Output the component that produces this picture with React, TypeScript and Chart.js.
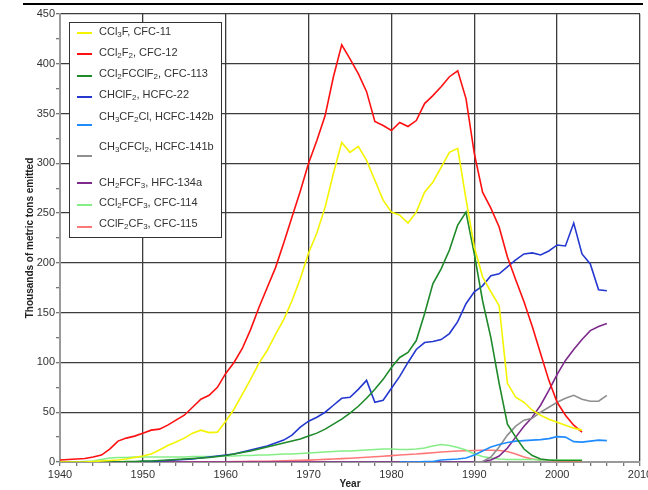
import React, { useEffect, useRef } from "react";
import { Chart, registerables } from "chart.js";

Chart.register(...registerables);

const YEARS = [
  1940, 1941, 1942, 1943, 1944, 1945, 1946, 1947, 1948, 1949,
  1950, 1951, 1952, 1953, 1954, 1955, 1956, 1957, 1958, 1959,
  1960, 1961, 1962, 1963, 1964, 1965, 1966, 1967, 1968, 1969,
  1970, 1971, 1972, 1973, 1974, 1975, 1976, 1977, 1978, 1979,
  1980, 1981, 1982, 1983, 1984, 1985, 1986, 1987, 1988, 1989,
  1990, 1991, 1992, 1993, 1994, 1995, 1996, 1997, 1998, 1999,
  2000, 2001, 2002, 2003, 2004, 2005, 2006,
];

const CFC11 = [
  0, 0, 0, 0, 0.5, 1, 1.5, 2, 3, 4.5,
  6, 8, 12, 16.5, 20, 24, 29, 32, 29.5, 30,
  41, 53, 68, 83, 99, 112, 128, 143, 162, 184,
  210, 230, 256, 290, 321, 311, 317, 303, 283, 263,
  251, 248, 240, 251, 271, 281, 296, 311, 315, 264,
  216, 186, 171, 157, 79, 65, 60, 52, 47, 43,
  40, 37, 34, 32, null, null, null,
];

const CFC12 = [
  2, 2.5, 3, 3.5, 5, 7, 13, 21, 24, 26,
  29, 32, 33, 37, 42, 47, 55, 63, 67, 75,
  89, 100, 114, 133, 155, 175, 195, 220, 246, 272,
  300, 323, 348, 387, 419, 405, 390, 372, 342, 338,
  333, 341, 337, 343, 360, 368, 377, 387, 393, 365,
  310, 271, 255, 236, 206, 183, 161, 136, 109, 82,
  60, 47, 37, 30, null, null, null,
];

const CFC113 = [
  0, 0, 0, 0, 0, 0, 0, 0, 0.5, 0.5,
  1, 1, 1.5, 2, 2.5, 3, 3.5, 4, 4.5, 5.5,
  6.5, 8, 9.5, 11, 13, 15, 17, 19, 21, 23,
  26, 29, 33, 38, 43, 49, 56, 64, 73, 83,
  95, 105, 110, 122, 149, 179, 194, 213, 238, 251,
  209, 162, 125, 79, 38, 25, 13, 6.5, 3, 2,
  1.5, 1.5, 1.5, 1.5, null, null, null,
];

const HCFC22 = [
  0, 0, 0, 0, 0, 0, 0, 0, 0, 0,
  0.5, 0.5, 1, 1.5, 2, 2.5, 3, 4, 5, 6,
  7, 8, 10, 12, 14, 16, 19, 22, 27, 35,
  41, 45, 50, 57, 64, 65, 73, 82, 60, 62,
  74, 86, 100, 113, 120, 121, 123, 129, 141, 159,
  171, 177, 187, 189, 196, 203, 209, 210, 208, 212,
  218, 217, 240, 209, 199, 173, 172,
];

const HCFC142B = [
  null, null, null, null, null, null, null, null, null, null,
  null, null, null, null, null, null, null, null, null, null,
  null, null, null, null, null, null, null, null, null, null,
  null, null, null, null, null, null, null, null, null, null,
  null, 0, 0, 0, 0.5, 0.5, 2, 2.5, 3, 4,
  7, 11, 15, 17.5, 19.5, 21, 21.5, 22, 22.5, 23.5,
  25.5, 25, 20.5, 20, 21, 22, 21.5,
];

const HCFC141B = [
  null, null, null, null, null, null, null, null, null, null,
  null, null, null, null, null, null, null, null, null, null,
  null, null, null, null, null, null, null, null, null, null,
  null, null, null, null, null, null, null, null, null, null,
  null, null, null, null, null, null, null, null, null, null,
  0, 0.5, 5, 15, 27, 36, 42, 44, 50, 55,
  60, 64, 67, 63, 61, 61, 67,
];

const HFC134A = [
  0, 0, 0, 0, 0, 0, 0, 0, 0, 0,
  0, 0, 0, 0, 0, 0, 0, 0, 0, 0,
  0, 0, 0, 0, 0, 0, 0, 0, 0, 0,
  0, 0, 0, 0, 0, 0, 0, 0, 0, 0,
  0, 0, 0, 0, 0, 0, 0, 0, 0, 0,
  0, 0.5, 2, 6, 14, 25, 36, 45, 57, 72,
  88, 102, 113, 123, 132, 136, 139,
];

const CFC114 = [
  0, 0, 0, 0.5, 1, 2.5, 4, 4.5, 4.5, 5,
  5, 5, 5, 5, 5, 5, 5.5, 5.5, 5.5, 5.5,
  6, 6, 6.5, 6.5, 7, 7, 7.5, 8, 8, 8.5,
  9, 9.5, 10, 10.5, 11, 11, 11.5, 12, 12.5, 13,
  13, 12.5, 12.5, 13, 14, 16, 17.5, 16.5, 14.5, 12,
  8, 5.5, 4, 3, 2.5, 2.5, 2.5, 2.5, 2, 2,
  2, 2, 2, 2, null, null, null,
];

const CFC115 = [
  0, 0, 0, 0, 0, 0, 0, 0, 0, 0,
  0, 0, 0, 0, 0, 0, 0.1, 0.1, 0.2, 0.2,
  0.3, 0.4, 0.5, 0.6, 0.7, 0.8, 1, 1.2, 1.4, 1.6,
  1.9, 2.2, 2.6, 3, 3.4, 3.8, 4.2, 4.7, 5.2, 5.8,
  6.4, 7, 7.5, 8, 8.7, 9.3, 10, 10.5, 11, 11.3,
  11.5, 11.8, 11.8, 11.5, 10.5, 8, 5, 3, 2, 1.5,
  1, 0.8, 0.6, 0.5, null, null, null,
];

const SERIES_LABELS = [
  "CCl_3F, CFC-11",
  "CCl_2F_2, CFC-12",
  "CCl_2FCClF_2, CFC-113",
  "CHClF_2, HCFC-22",
  "CH_3CF_2Cl, HCFC-142b",
  "CH_3CFCl_2, HCFC-141b",
  "CH_2FCF_3, HFC-134a",
  "CCl_2FCF_3, CFC-114",
  "CClF_2CF_3, CFC-115",
];

const SERIES_VALUES = [CFC11, CFC12, CFC113, HCFC22, HCFC142B, HCFC141B, HFC134A, CFC114, CFC115];

const SERIES_COLORS = [
  "#f4f400",
  "#ff1010",
  "#1f8a2a",
  "#2438d0",
  "#1e8cff",
  "#8f8f8f",
  "#7d2a8c",
  "#86ee86",
  "#ff7878",
];

const X_TITLE = "Year";
const Y_TITLE = "Thousands of metric tons emitted";

const FONT = "'Liberation Sans', Arial, Helvetica, sans-serif";

// legend layout (text centre y, swatch y) per row
const LEGEND_TEXT_Y = [32, 53, 74, 95, 117, 147, 183, 203, 224];
const LEGEND_SWATCH_Y = [33, 54, 76, 97, 125, 156, 183, 205, 227];

function drawRich(ctx: CanvasRenderingContext2D, text: string, x: number, y: number) {
  const parts = text.split(/(_\d)/);
  let cx = x;
  for (const p of parts) {
    if (!p) continue;
    if (p.startsWith("_")) {
      ctx.font = `8px ${FONT}`;
      ctx.fillText(p.slice(1), cx, y + 3);
      cx += ctx.measureText(p.slice(1)).width;
    } else {
      ctx.font = `11px ${FONT}`;
      ctx.fillText(p, cx, y);
      cx += ctx.measureText(p).width;
    }
  }
}

const decorPlugin = {
  id: "decor",
  afterDraw(chart: any) {
    const ctx: CanvasRenderingContext2D = chart.ctx;
    ctx.save();
    // page rule at top
    ctx.fillStyle = "#000";
    ctx.fillRect(23, 3, 620, 2);
    // legend box
    const bx = 69.5, by = 22.5, bw = 152, bh = 215;
    ctx.fillStyle = "#fff";
    ctx.fillRect(bx, by, bw, bh);
    ctx.strokeStyle = "#333";
    ctx.lineWidth = 1;
    ctx.strokeRect(bx, by, bw, bh);
    ctx.textBaseline = "middle";
    ctx.textAlign = "left";
    SERIES_LABELS.forEach((label, i) => {
      ctx.strokeStyle = SERIES_COLORS[i];
      ctx.lineWidth = 2;
      ctx.beginPath();
      ctx.moveTo(77, LEGEND_SWATCH_Y[i]);
      ctx.lineTo(92, LEGEND_SWATCH_Y[i]);
      ctx.stroke();
      ctx.fillStyle = "#333";
      drawRich(ctx, label, 99, LEGEND_TEXT_Y[i]);
    });
    ctx.restore();
  },
};

export default function App() {
  const ref = useRef<HTMLCanvasElement>(null);

  useEffect(() => {
    if (!ref.current) return;
    const datasets = SERIES_LABELS.map((label, i) => ({
      label,
      data: YEARS.map((x, j) => ({ x, y: SERIES_VALUES[i][j] })),
      borderColor: SERIES_COLORS[i],
      backgroundColor: SERIES_COLORS[i],
      borderWidth: 1.6,
      pointRadius: 0,
      tension: 0,
      fill: false,
      spanGaps: false,
    }));

    const chart = new Chart(ref.current, {
      type: "line",
      data: { datasets },
      options: {
        animation: false,
        responsive: false,
        events: [],
        layout: { padding: { left: 20, right: 8, top: 14, bottom: 0 } },
        plugins: {
          legend: { display: false },
          tooltip: { enabled: false },
        },
        scales: {
          x: {
            type: "linear",
            min: 1940,
            max: 2010,
            ticks: {
              stepSize: 2,
              autoSkip: false,
              maxRotation: 0,
              padding: 2,
              color: "#333",
              font: { family: FONT, size: 11 },
              callback: (v: any) => (Number(v) % 10 === 0 ? String(v) : ""),
            },
            grid: {
              color: (c: any) =>
                c.tick && c.tick.value % 10 === 0 && c.tick.value !== 1940 ? "#3c3c3c" : "rgba(0,0,0,0)",
              tickColor: "#777",
              tickLength: 4,
              lineWidth: 1.3,
            },
            border: { display: true, color: "#9a9a9a", width: 2 },
            title: {
              display: true,
              text: X_TITLE,
              color: "#222",
              font: { family: FONT, size: 10, weight: "bold" },
              padding: { top: 0, bottom: 0 },
            },
            afterFit: (s: any) => {
              s.height = 28;
              s.paddingLeft = 0;
              s.paddingRight = 0;
            },
          },
          y: {
            type: "linear",
            min: 0,
            max: 450,
            ticks: {
              stepSize: 25,
              autoSkip: false,
              padding: 1,
              color: "#333",
              font: { family: FONT, size: 11 },
              callback: (v: any) => (Number(v) % 50 === 0 ? String(v) : ""),
            },
            grid: {
              color: (c: any) =>
                c.tick && c.tick.value % 50 === 0 && c.tick.value !== 0 ? "#3c3c3c" : "rgba(0,0,0,0)",
              tickColor: "#777",
              tickLength: 4,
              lineWidth: 1.3,
            },
            border: { display: true, color: "#9a9a9a", width: 2 },
            title: {
              display: true,
              text: Y_TITLE,
              color: "#222",
              font: { family: FONT, size: 10, weight: "bold" },
              padding: { top: 4, bottom: 4 },
            },
            afterFit: (s: any) => {
              s.width = 40;
              s.paddingTop = 0;
              s.paddingBottom = 0;
            },
          },
        },
      },
      plugins: [decorPlugin],
    } as any);

    return () => chart.destroy();
  }, []);

  return (
    <div style={{ position: "fixed", left: 0, top: 0, width: 648, height: 490, background: "#fff" }}>
      <canvas ref={ref} width={648} height={490} style={{ display: "block" }} />
    </div>
  );
}
